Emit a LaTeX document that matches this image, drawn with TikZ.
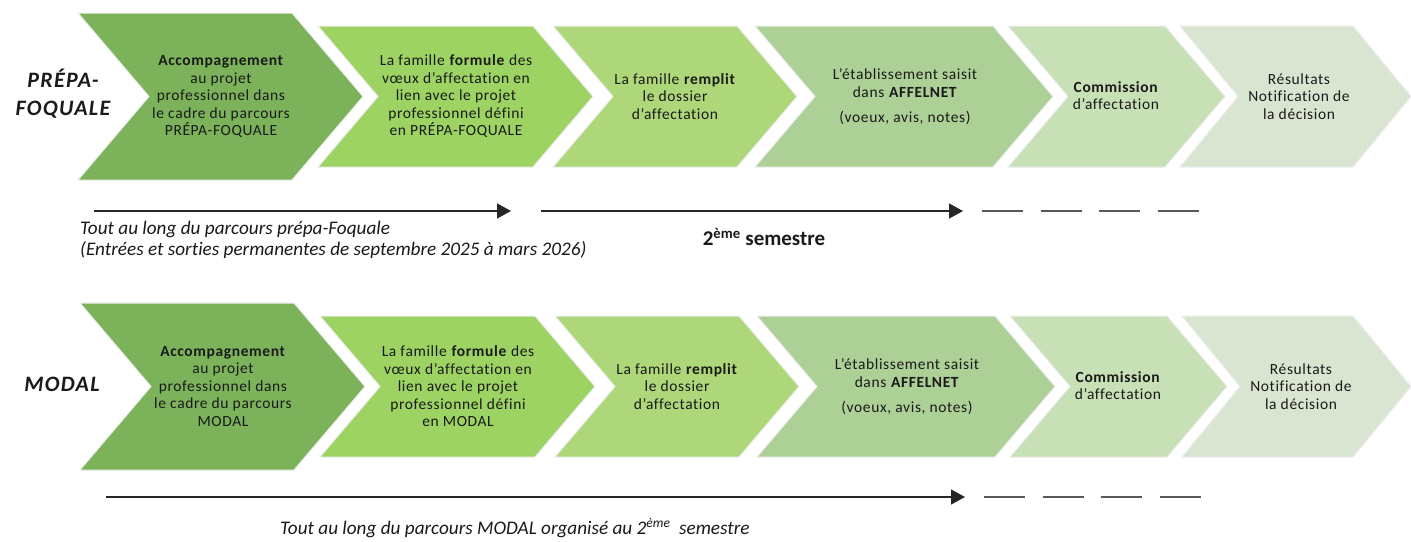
\documentclass[tikz,border=0pt]{standalone}
\usepackage{fontspec}
\setmainfont{Carlito}[Ligatures=NoCommon]
\usetikzlibrary{arrows.meta}
\definecolor{cA}{HTML}{7BB25A}
\definecolor{cB}{HTML}{9CD362}
\definecolor{cC}{HTML}{ADD779}
\definecolor{cD}{HTML}{ADD096}
\definecolor{cE}{HTML}{C7E0B5}
\definecolor{cF}{HTML}{D9E5D1}
\definecolor{txt}{HTML}{1A1A1A}
% left x, top-right x, top y, bottom y, depth, colour
\newcommand\chevron[6]{%
  \filldraw[fill=#6, draw=black!7, line width=1pt]
    (#1,#3) -- (#2,#3) -- ({#2+#5},{(#3+#4)/2}) -- (#2,#4) -- (#1,#4)
    -- ({#1+#5},{(#3+#4)/2}) -- cycle;}
\begin{document}
\begin{tikzpicture}[x=1pt,y=-1pt,
  chevtxt/.style={align=center, inner sep=0pt, text=txt,
    font=\fontsize{15.5}{17.5}\selectfont\addfontfeature{LetterSpace=4}},
  rowlbl/.style={align=center, inner sep=0pt, text=txt,
    font=\fontsize{22}{28}\selectfont\bfseries\itshape\addfontfeature{LetterSpace=6}},
  notetxt/.style={align=left, inner sep=0pt, text=txt,
    font=\fontsize{19.2}{21}\selectfont\itshape},
  semtxt/.style={inner sep=0pt, text=txt,
    font=\fontsize{21}{24}\selectfont\bfseries},
  arr/.style={line width=1.5pt, draw=black!85, -{Triangle[length=14pt,width=15pt]}},
  dsh/.style={line width=1.8pt, draw=black!65, dash pattern=on 41pt off 17.5pt}]
\useasboundingbox (0,0) rectangle (1411,541);
\fill[white] (0,0) rectangle (1411,541);

% ---------- top row ----------
\chevron{78}{292}{13}{180}{71}{cA}
\chevron{318}{533}{26}{167}{60}{cB}
\chevron{553}{737}{26}{167}{60}{cC}
\chevron{755}{993}{26}{167}{60}{cD}
\chevron{1008}{1165}{26}{167}{60}{cE}
\chevron{1180}{1353}{26}{167}{58}{cF}

\node[rowlbl] (lbl1) at (63,94) {PRÉPA-\\FOQUALE};
\node[chevtxt] (t1) at (221,96.5) {\textbf{Accompagnement}\\au projet\\professionnel dans\\le cadre du parcours\\PRÉPA-FOQUALE};
\node[chevtxt] (t2) at (456,96.5) {La famille \textbf{formule} des\\vœux d’affectation en\\lien avec le projet\\professionnel défini\\en PRÉPA-FOQUALE};
\node[chevtxt] (t3) at (675,96.5) {La famille \textbf{remplit}\\le dossier\\d’affectation};
\node[chevtxt] (t4) at (905,96.5) {L’établissement saisit\\dans \textbf{AFFELNET}\\[7.5pt](voeux, avis, notes)};
\node[chevtxt] (t5) at (1116,95.5) {\textbf{Commission}\\d’affectation};
\node[chevtxt] (t6) at (1299,96.5) {Résultats\\Notification de\\la décision};

\coordinate (a1s) at (94,211);
\coordinate (a1e) at (511,211);
\coordinate (a2s) at (541,211);
\coordinate (a2e) at (963,211);
\coordinate (d1s) at (982,211);
\coordinate (d1e) at (1200,211);
\draw[arr] (a1s) -- (a1e);
\draw[arr] (a2s) -- (a2e);
\draw[dsh] (d1s) -- (d1e);

\node[notetxt, anchor=west] (n1) at (80,240) {Tout au long du parcours prépa-Foquale\\(Entrées et sorties permanentes de septembre 2025 à mars 2026)};
\node[semtxt] (n2) at (764,237) {2\textsuperscript{ème} semestre};

% ---------- bottom row ----------
\chevron{80}{294}{303}{470}{71}{cA}
\chevron{320}{535}{316}{457}{60}{cB}
\chevron{555}{739}{316}{457}{60}{cC}
\chevron{757}{995}{316}{457}{60}{cD}
\chevron{1010}{1167}{316}{457}{60}{cE}
\chevron{1182}{1353}{316}{457}{58}{cF}

\node[rowlbl] (lbl2) at (62,384) {MODAL};
\node[chevtxt] (b1) at (223,386.5) {\textbf{Accompagnement}\\au projet\\professionnel dans\\le cadre du parcours\\MODAL};
\node[chevtxt] (b2) at (458,386.5) {La famille \textbf{formule} des\\vœux d’affectation en\\lien avec le projet\\professionnel défini\\en MODAL};
\node[chevtxt] (b3) at (677,386.5) {La famille \textbf{remplit}\\le dossier\\d’affectation};
\node[chevtxt] (b4) at (907,386.5) {L’établissement saisit\\dans \textbf{AFFELNET}\\[7.5pt](voeux, avis, notes)};
\node[chevtxt] (b5) at (1118,385.5) {\textbf{Commission}\\d’affectation};
\node[chevtxt] (b6) at (1301,386.5) {Résultats\\Notification de\\la décision};

\coordinate (a3s) at (106,497);
\coordinate (a3e) at (965,497);
\coordinate (d2s) at (984,497);
\coordinate (d2e) at (1202,497);
\draw[arr] (a3s) -- (a3e);
\draw[dsh] (d2s) -- (d2e);

\node[notetxt, anchor=west] (n3) at (280,528) {Tout au long du parcours MODAL organisé au 2\textsuperscript{ème}\ \ semestre};
\end{tikzpicture}
\end{document}
